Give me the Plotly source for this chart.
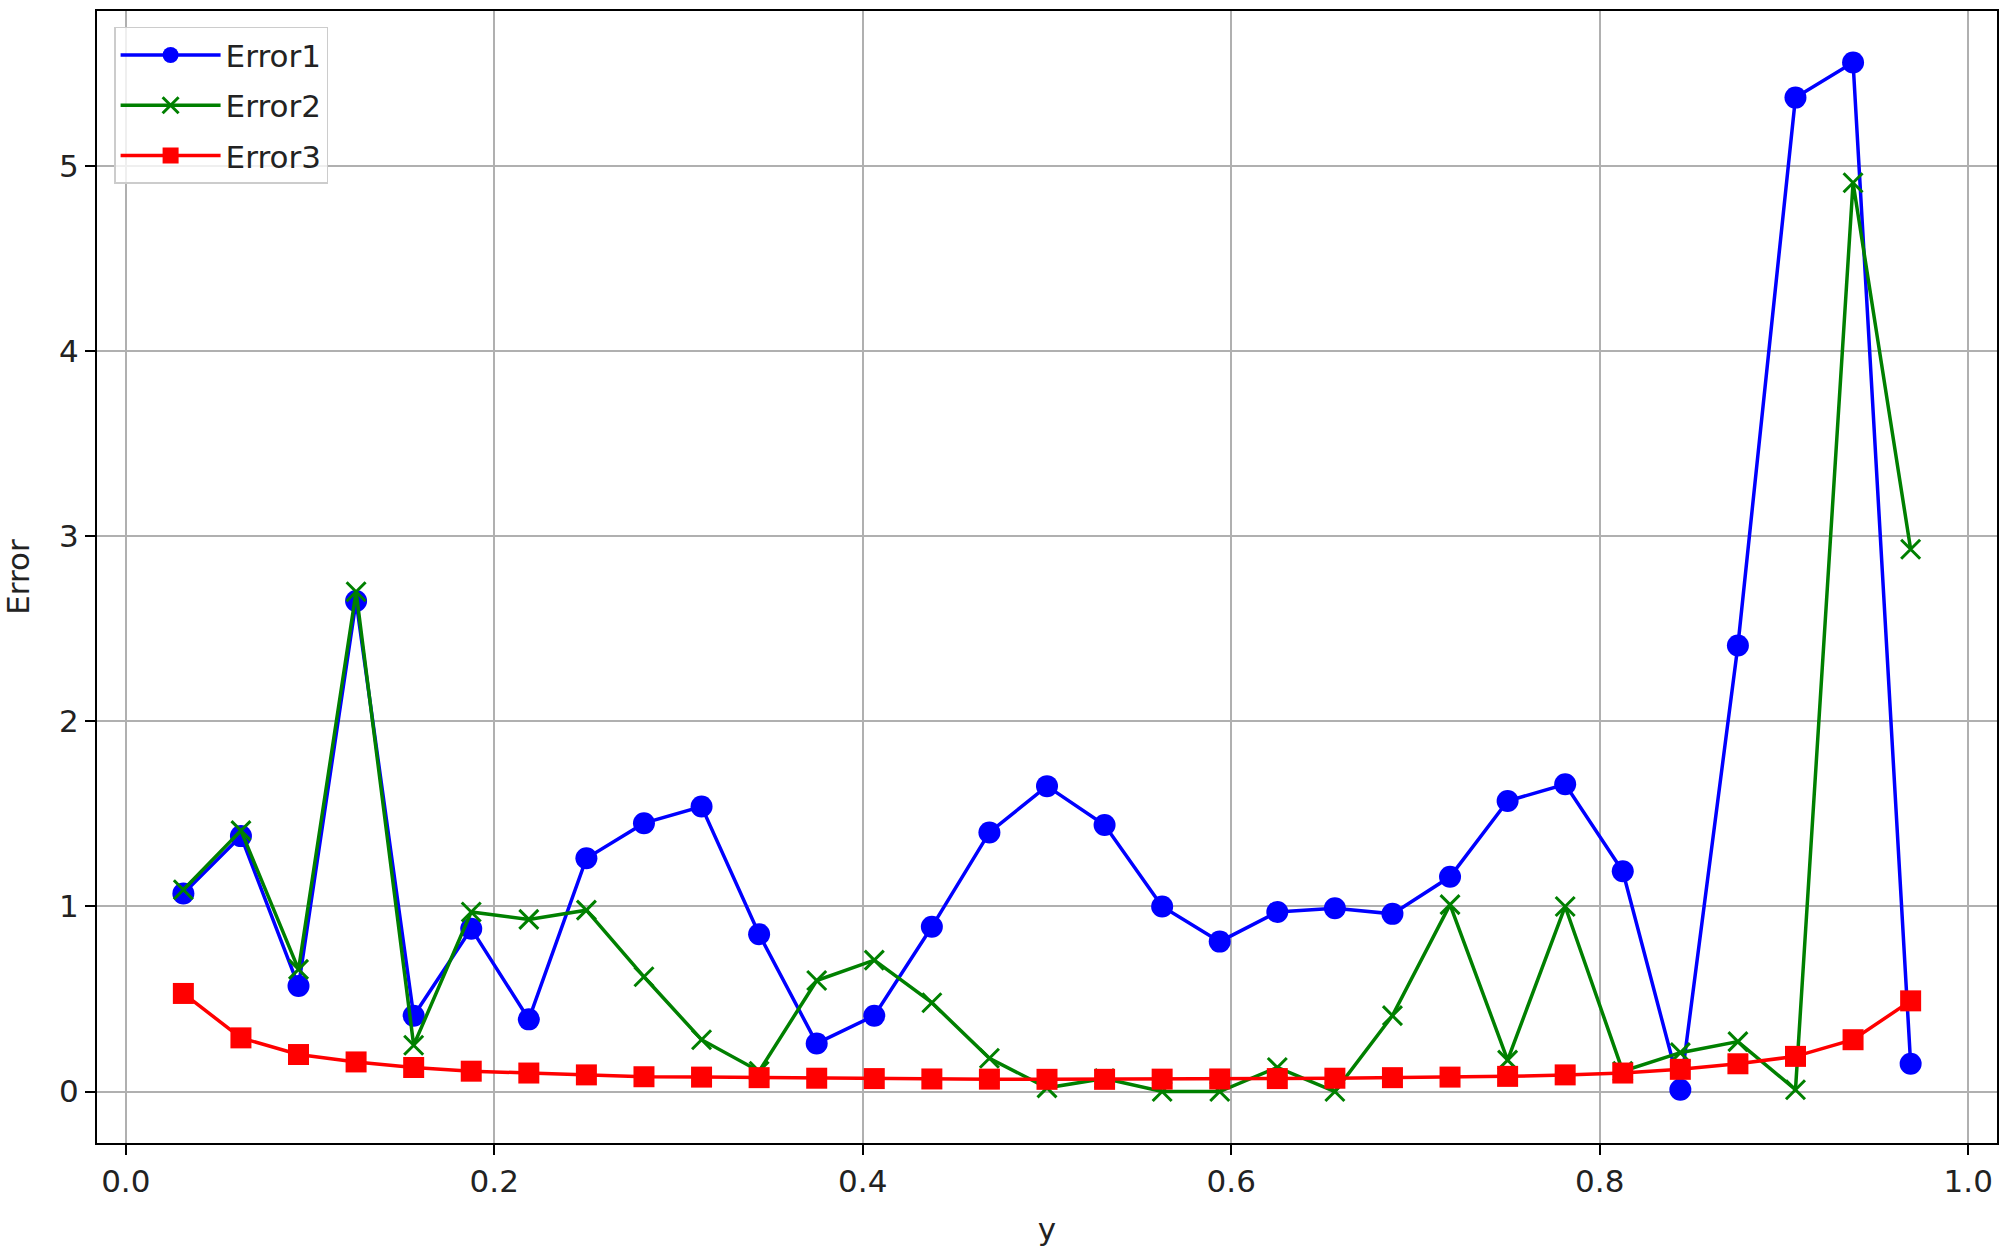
import plotly.graph_objects as go

# sample positions (i/32) and the three error curves
y_pos = [i / 32 for i in range(1, 32)]

error1 = [1.07, 1.38, 0.57, 2.65, 0.41, 0.88, 0.39, 1.26, 1.45, 1.54,
          0.85, 0.26, 0.41, 0.89, 1.40, 1.65, 1.44, 1.00, 0.81, 0.97,
          0.99, 0.96, 1.16, 1.57, 1.66, 1.19, 0.01, 2.41, 5.37, 5.56, 0.15]

error2 = [1.09, 1.41, 0.66, 2.70, 0.25, 0.97, 0.93, 0.98, 0.62, 0.28,
          0.11, 0.60, 0.71, 0.48, 0.18, 0.02, 0.07, 0.00, 0.00, 0.13,
          0.00, 0.41, 1.01, 0.17, 1.00, 0.11, 0.21, 0.27, 0.01, 4.91, 2.93]

error3 = [0.53, 0.29, 0.20, 0.16, 0.13, 0.11, 0.10, 0.09, 0.08, 0.078,
          0.075, 0.072, 0.070, 0.068, 0.067, 0.066, 0.066, 0.067, 0.068, 0.070,
          0.072, 0.075, 0.078, 0.082, 0.09, 0.10, 0.12, 0.15, 0.19, 0.28, 0.49]

x_ticks = [0.0, 0.2, 0.4, 0.6, 0.8, 1.0]
y_ticks = [0, 1, 2, 3, 4, 5]

FONT = "DejaVu Sans"

fig = go.Figure()

# Error1 - blue circles
fig.add_trace(go.Scatter(
    x=y_pos, y=error1, name="Error1", legendgroup="e1",
    mode="lines+markers",
    line=dict(color="blue", width=3.5),
    marker=dict(symbol="circle", size=22, color="blue"),
))

# Error2 - green crosses
fig.add_trace(go.Scatter(
    x=y_pos, y=error2, name="Error2", legendgroup="e2",
    mode="lines+markers",
    line=dict(color="green", width=3.5),
    marker=dict(symbol="x-thin", size=19, color="green",
                line=dict(color="green", width=3)),
))

# Error3 - red squares
fig.add_trace(go.Scatter(
    x=y_pos, y=error3, name="Error3", legendgroup="e3",
    mode="lines+markers",
    line=dict(color="red", width=3.5),
    marker=dict(symbol="square", size=21, color="red"),
))

# matplotlib style 5% margins around the data
x_pad = (max(y_pos) - min(y_pos)) * 0.05
all_err = error1 + error2 + error3
y_pad = (max(all_err) - min(all_err)) * 0.05

axis_common = dict(
    showline=True, linecolor="black", linewidth=2, mirror=True,
    ticks="outside", tickcolor="black", ticklen=10, tickwidth=2,
    showgrid=True, gridcolor="#b0b0b0", gridwidth=1.5,
    zeroline=False,
    tickfont=dict(family=FONT, size=31, color="#222222"),
)

fig.update_layout(
    width=2008, height=1252,
    paper_bgcolor="white", plot_bgcolor="white",
    font=dict(family=FONT, size=31, color="#222222"),
    margin=dict(l=97, r=11, t=9, b=109),
    xaxis=dict(
        range=[min(y_pos) - x_pad, max(y_pos) + x_pad],
        tickvals=x_ticks, tickformat=".1f",
        title=dict(text="y", font=dict(family=FONT, size=31), standoff=20),
        **axis_common,
    ),
    yaxis=dict(
        range=[min(all_err) - y_pad, max(all_err) + y_pad],
        tickvals=y_ticks,
        title=dict(text="Error", font=dict(family=FONT, size=31), standoff=26),
        **axis_common,
    ),
    legend=dict(
        x=0.009, y=0.986, xanchor="left", yanchor="top",
        bgcolor="rgba(255,255,255,0.8)",
        bordercolor="#cccccc", borderwidth=1.5,
        font=dict(family=FONT, size=31, color="#222222"),
        tracegroupgap=7,
        itemwidth=100,
    ),
)

# drop the browser's default body margin so the figure fills the window
fig.write_html("out.html", config={"displayModeBar": False},
               post_script="document.body.style.margin='0';")
